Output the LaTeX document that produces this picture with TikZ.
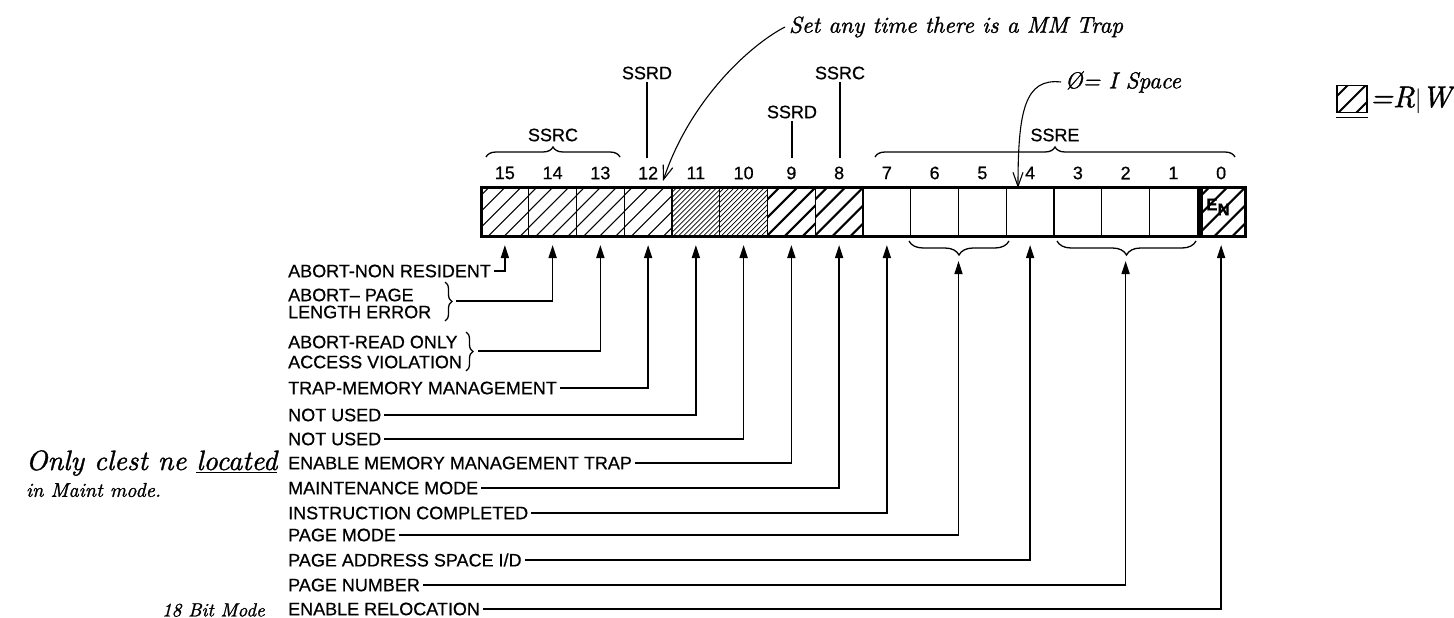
\documentclass[tikz,border=0pt]{standalone}
\usepackage{fontspec}
\newfontfamily\lblfont{Liberation Sans}[FakeBold=0.6]
\newfontfamily\handfont{lmroman10-italic.otf}[FakeBold=1.2]
\usetikzlibrary{arrows.meta,decorations.pathreplacing}
\tikzset{
  lbl/.style={font=\lblfont\fontsize{18}{17}\selectfont, anchor=west, inner sep=3pt, align=left},
  bitnum/.style={font=\lblfont\fontsize{18}{18}\selectfont, inner sep=0pt},
  field/.style={font=\lblfont\fontsize{18}{18}\selectfont, inner sep=0pt, outer sep=3pt},
  hand/.style={font=\handfont\fontsize{#1}{#1}\selectfont, inner sep=0pt, outer sep=4pt},
  cell/.style={draw, line width=1.4pt, minimum width=47.75pt, minimum height=49pt, inner sep=0pt, outer sep=0pt},
  plain/.style={},
  sparse/.style={path picture={\foreach \k in {-40,-24,...,40} \draw[line width=1pt] ([shift={(\k-30,30)}]path picture bounding box.center) -- ([shift={(\k+30,-30)}]path picture bounding box.center);}},
  dense/.style={path picture={\foreach \k in {-48,-43,...,48} \draw[line width=0.8pt] ([shift={(\k-30,30)}]path picture bounding box.center) -- ([shift={(\k+30,-30)}]path picture bounding box.center);}},
  thick/.style={path picture={\foreach \k in {-36,-18,...,36} \draw[line width=2pt] ([shift={(\k-30,30)}]path picture bounding box.center) -- ([shift={(\k+30,-30)}]path picture bounding box.center);}},
  conn/.style={line width=1.5pt, -{Triangle[length=13pt,width=8pt]}},
  tick/.style={line width=1.4pt},
  brc/.style={decorate, decoration={brace, amplitude=#1}, line width=1.3pt},
  handarrow/.style={line width=1.1pt, -{Straight Barb[length=14pt,width=10pt]}}
}
\begin{document}
\begin{tikzpicture}[x=1pt, y=-1pt]
\useasboundingbox (0,0) rectangle (1454,618);
\fill[white] (0,0) rectangle (1454,618);

% register cells
\foreach \b/\st in {15/sparse,14/sparse,13/sparse,12/sparse,11/dense,10/dense,9/thick,8/thick,7/plain,6/plain,5/plain,4/plain,3/plain,2/plain,1/plain,0/thick}
  \node[cell,\st] (c\b) at ({504.875+47.75*(15-\b)},211.5) {};
\draw[line width=3pt] (c15.north west) rectangle (c0.south east);
\fill ([xshift=1pt]c0.north west) rectangle ([xshift=6pt]c0.south west);
\node[font=\lblfont\bfseries\fontsize{17}{17}\selectfont, inner sep=0pt] (en) at (1218,207) {E\raisebox{-5pt}{N}};

% bit numbers and arrow tips
\foreach \b in {0,...,15} {
  \node[bitnum] (n\b) at ({504.875+47.75*(15-\b)},173) {\b};
  \coordinate (a\b) at ({504.875+47.75*(15-\b)},245);
}
\coordinate (a65) at (958.5,261);
\coordinate (a31) at (1125.6,261);

% field labels above
\node[field] (fc1) at (553,135) {SSRC};
\draw[brc=10pt] (486,157) -- (620,157);
\node[field] (fd12) at (647,73) {SSRD};
\coordinate (t12) at (647,158);
\draw[tick] (fd12.south) -- (t12);
\node[field] (fd9) at (792,112) {SSRD};
\coordinate (t9) at (792,158);
\draw[tick] (fd9.south) -- (t9);
\node[field] (fc8) at (840,73) {SSRC};
\coordinate (t8) at (840,158);
\draw[tick] (fc8.south) -- (t8);
\node[field] (fe) at (1055,135) {SSRE};
\draw[brc=10pt] (875,157) -- (1235,157);

% braces below register
\draw[brc=14pt] (1009,241) -- (909,241);
\draw[brc=14pt] (1196,241) -- (1057,241);

% labels
\node[lbl] (L15) at (285,271) {ABORT-NON RESIDENT};
\node[lbl] (L14) at (285,303.5) {ABORT– PAGE\\LENGTH ERROR};
\node[lbl, font=\lblfont\fontsize{18}{20}\selectfont] (L13) at (285,352) {ABORT-READ ONLY\\ACCESS VIOLATION};
\node[lbl] (L12) at (285,388) {TRAP-MEMORY MANAGEMENT};
\node[lbl] (L11) at (285,415) {NOT USED};
\node[lbl] (L10) at (285,439) {NOT USED};
\node[lbl] (L9) at (285,463) {ENABLE MEMORY MANAGEMENT TRAP};
\node[lbl] (L8) at (285,488) {MAINTENANCE MODE};
\node[lbl] (L7) at (285,513) {INSTRUCTION COMPLETED};
\node[lbl] (L65) at (285,535) {PAGE MODE};
\node[lbl] (L4) at (285,560) {PAGE ADDRESS SPACE I/D};
\node[lbl] (L31) at (285,585) {PAGE NUMBER};
\node[lbl] (L0) at (285,609) {ENABLE RELOCATION};

\draw[brc=7pt] (445,282) -- (445,321);
\coordinate (k14) at (456,301);
\draw[brc=7pt] (466,332) -- (466,371);
\coordinate (k13) at (478,351);

% connectors
\draw[conn] (L15.east) -| (a15);
\draw[conn] (k14) -| (a14);
\draw[conn] (k13) -| (a13);
\draw[conn] (L12.east) -| (a12);
\draw[conn] (L11.east) -| (a11);
\draw[conn] (L10.east) -| (a10);
\draw[conn] (L9.east) -| (a9);
\draw[conn] (L8.east) -| (a8);
\draw[conn] (L7.east) -| (a7);
\draw[conn] (L65.east) -| (a65);
\draw[conn] (L4.east) -| (a4);
\draw[conn] (L31.east) -| (a31);
\draw[conn] (L0.east) -| (a0);

% handwritten notes
\node[hand=23, anchor=west] (note1) at (785,27) {Set any time there is a MM Trap};
\coordinate (h12) at (663,181);
\draw[handarrow] (note1.west) .. controls (750,45) and (690,100) .. (h12);
\node[hand=23, anchor=west] (note2) at (1061,82) {Ø= I Space};
\coordinate (h4) at (1018,188);
\draw[handarrow] (note2.west) .. controls (1025,78) and (1018,110) .. (h4);
\node[draw, line width=1.5pt, minimum width=30pt, minimum height=27pt, inner sep=0pt, thick] (leg) at (1352,99) {};
\draw[line width=1.2pt] ([yshift=-4pt]leg.south west) -- ([yshift=-4pt]leg.south east);
\node[hand=30, anchor=west] (legt) at (1366,100) {=R$\big|$W};
\node[hand=28, anchor=west] (note3) at (22,463) {Only clest ne \underline{located}};
\node[hand=20, anchor=west] (note4) at (22,490) {in Maint mode.};
\node[hand=19, anchor=west] (note5) at (158,610) {18 Bit Mode};
\end{tikzpicture}
\end{document}
